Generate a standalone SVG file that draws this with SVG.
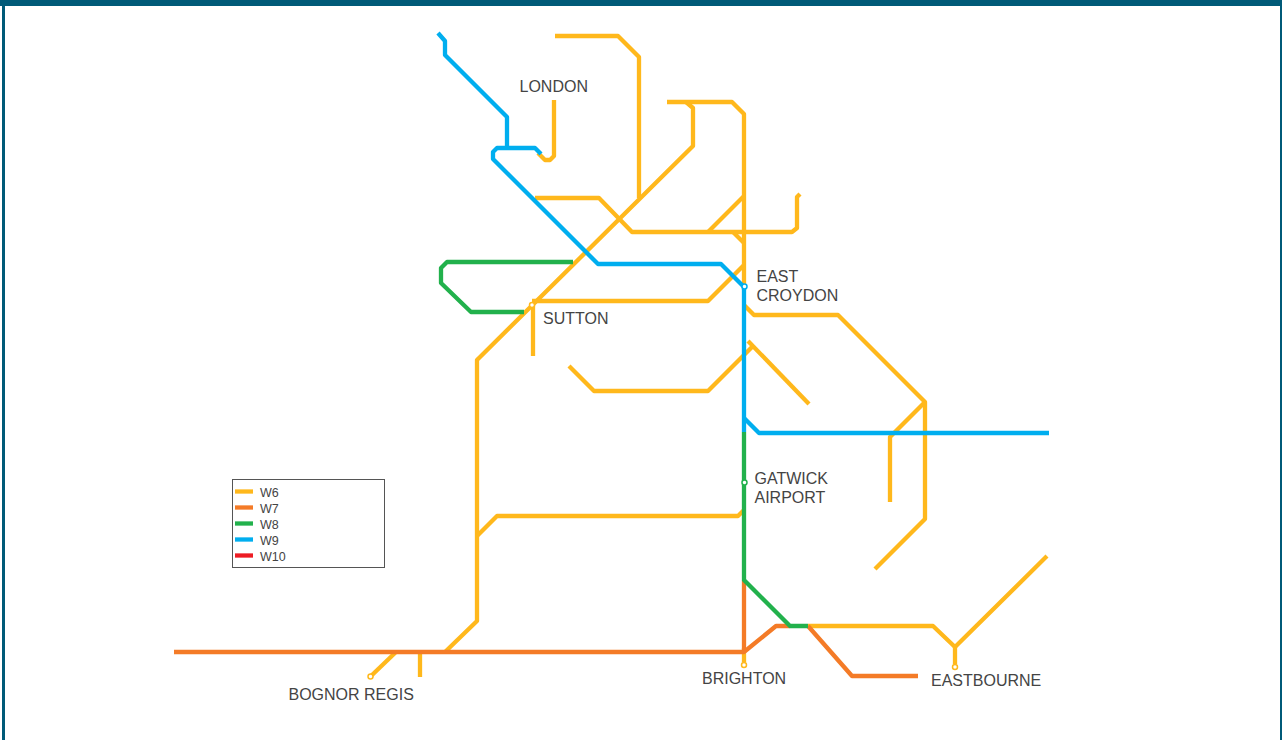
<svg xmlns="http://www.w3.org/2000/svg" width="1282" height="740" viewBox="0 0 1282 740">
<style>
.l{fill:none;stroke-width:4.300;stroke-linejoin:round}
.y{stroke:#ffb81c}.o{stroke:#f47b27}.g{stroke:#22b14c}.b{stroke:#00aeef}.r{stroke:#ed1c24}
text{font-family:"Liberation Sans",Arial,sans-serif;font-size:16px;fill:#444}
.k{font-size:12.5px}
.s{fill:#fff;stroke-width:1.5}
</style>
<rect width="1282" height="740" fill="#fff"/>
<rect x="0" y="0" width="1282" height="6" fill="#005a78"/>
<rect x="2" y="0" width="3" height="740" fill="#005a78"/>
<rect x="1280" y="0" width="2" height="740" fill="#005a78"/>
<g id="connectors">
<g id="w6">
<path class="l y" d="M555 36H618L639 57V198"/>
<path class="l y" d="M554 100V156L550 160H545L538 153"/>
<path class="l y" d="M667 102H732L744 114V290"/>
<path class="l y" d="M686 102L693 108V146L477 360V621L445 652"/>
<path class="l y" d="M535 198H599L632 232H792L797 228V197L800 194"/>
<path class="l y" d="M708 232L744 196"/>
<path class="l y" d="M733 232L744 243"/>
<path class="l y" d="M532 301H708L744 265"/>
<path class="l y" d="M533 305V356"/>
<path class="l y" d="M744 305L754 315H838L925 402V519L875 569"/>
<path class="l y" d="M925 402L890 437V502"/>
<path class="l y" d="M569 366L594 391H708L752 347"/>
<path class="l y" d="M748 341L809 404"/>
<path class="l y" d="M477 536L497 516H738L744 510"/>
<path class="l y" d="M808 626H933L955 647L1047 556"/>
<path class="l y" d="M955 647V664"/>
<path class="l y" d="M744 648V662"/>
<path class="l y" d="M396 652L371 676"/>
<path class="l y" d="M420 652V677"/>
</g>
<g id="w7">
<path class="l o" d="M744 580V652"/>
<path class="l o" d="M174 652H744L776 626H790"/>
<path class="l o" d="M808 626L852 676H918"/>
</g>
<g id="w8">
<path class="l g" d="M573 262H447L441 268V283L471 312H524"/>
<path class="l g" d="M744 432V580L790 626H808"/>
</g>
<g id="w9">
<path class="l b" d="M438 33L445 41V55L507 117V148"/>
<path class="l b" d="M541 154L535 148H497L493 152V159L598 264H721L744 287V432"/>
<path class="l b" d="M744 418L759 433H1049"/>
</g>
</g>
<g id="london"><text x="519.500" y="91.500">LONDON</text></g>
<g id="sutton"><circle class="s y" cx="532" cy="305" r="2.500"/><text x="543" y="323.500">SUTTON</text></g>
<g id="east-croydon"><circle class="s b" cx="744.500" cy="286.500" r="2.500"/><text x="756.500" y="281.500">EAST</text><text x="756.500" y="300.500">CROYDON</text></g>
<g id="gatwick-airport"><circle class="s g" cx="744.500" cy="482.500" r="2.500"/><text x="754.500" y="483.500">GATWICK</text><text x="754.500" y="502.500">AIRPORT</text></g>
<g id="brighton"><circle class="s y" cx="744" cy="665" r="2.500"/><text x="702" y="684">BRIGHTON</text></g>
<g id="eastbourne"><circle class="s y" cx="955" cy="667" r="2.500"/><text x="931" y="686">EASTBOURNE</text></g>
<g id="bognor-regis"><circle class="s y" cx="370.500" cy="676.500" r="2.500"/><text x="288.500" y="699.500">BOGNOR REGIS</text></g>
<g id="legend">
<rect x="232.500" y="479.500" width="152" height="88" fill="#fff" stroke="#555"/>
<path class="l y" d="M235 491.500H253"/><text class="k" x="260" y="496.500">W6</text>
<path class="l o" d="M235 507.500H253"/><text class="k" x="260" y="512.500">W7</text>
<path class="l g" d="M235 523.500H253"/><text class="k" x="260" y="528.500">W8</text>
<path class="l b" d="M235 539.500H253"/><text class="k" x="260" y="544.500">W9</text>
<path class="l r" d="M235 555.500H253"/><text class="k" x="260" y="560.500">W10</text>
</g>
</svg>
